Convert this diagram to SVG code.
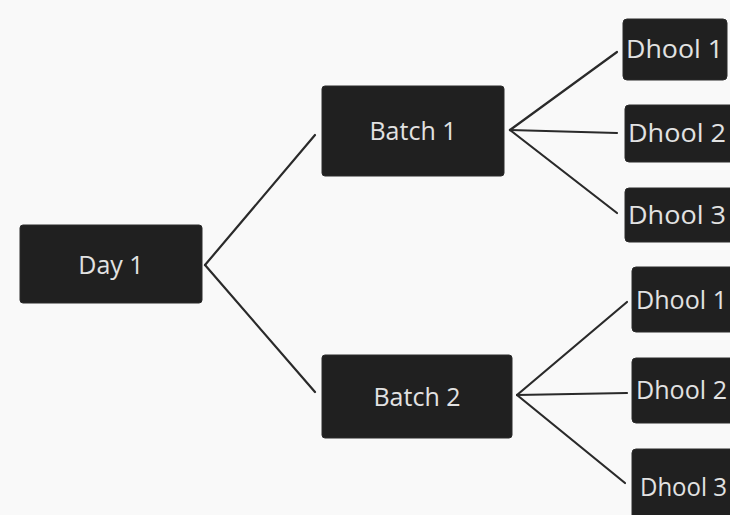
<svg xmlns="http://www.w3.org/2000/svg" width="730" height="515" viewBox="0 0 730 515">
<style>
.box{fill:#202020;stroke:#2a2a2a;stroke-width:1}
.t{fill:#e2e2e2;font-family:"Open Sans","Liberation Sans",sans-serif;font-size:25px;dominant-baseline:central}
.c{text-anchor:middle}
.ln{stroke:#2a2a2a;stroke-width:2.2;fill:none;stroke-linecap:round}
</style>
<rect width="730" height="515" fill="#f9f9f9"/>
<g id="connectors">
<line class="ln" x1="205" y1="265" x2="315" y2="135"/>
<line class="ln" x1="205" y1="265" x2="315" y2="392"/>
<line class="ln" x1="510" y1="130" x2="617" y2="52"/>
<line class="ln" x1="510" y1="130" x2="617" y2="133"/>
<line class="ln" x1="510" y1="130" x2="617" y2="213"/>
<line class="ln" x1="517" y1="395" x2="627" y2="302"/>
<line class="ln" x1="517" y1="395" x2="627" y2="393"/>
<line class="ln" x1="517" y1="395" x2="625" y2="483"/>
</g>
<g id="day1"><rect class="box" x="20" y="225" width="182" height="78" rx="3"/><text class="t c" x="111" y="264" font-size="28">Day 1</text></g>
<g id="batch1"><rect class="box" x="322" y="86" width="182" height="90" rx="3"/><text class="t c" x="413" y="130" font-size="24">Batch 1</text></g>
<g id="batch2"><rect class="box" x="322" y="355" width="190" height="83" rx="3"/><text class="t c" x="417" y="396" font-size="24">Batch 2</text></g>
<g id="b1d1"><rect class="box" x="623" y="19" width="104" height="61" rx="4"/><text class="t" x="626" y="48" textLength="97" lengthAdjust="spacingAndGlyphs">Dhool 1</text></g>
<g id="b1d2"><rect class="box" x="625" y="105" width="110" height="57" rx="4"/><text class="t" x="628" y="132" textLength="98" lengthAdjust="spacingAndGlyphs">Dhool 2</text></g>
<g id="b1d3"><rect class="box" x="625" y="188" width="110" height="54" rx="4"/><text class="t" x="628" y="214" textLength="98" lengthAdjust="spacingAndGlyphs">Dhool 3</text></g>
<g id="b2d1"><rect class="box" x="632" y="267" width="110" height="65" rx="4"/><text class="t" x="636" y="299" textLength="91" lengthAdjust="spacingAndGlyphs">Dhool 1</text></g>
<g id="b2d2"><rect class="box" x="632" y="358" width="110" height="65" rx="4"/><text class="t" x="636" y="389" textLength="91" lengthAdjust="spacingAndGlyphs">Dhool 2</text></g>
<g id="b2d3"><rect class="box" x="632" y="449" width="110" height="80" rx="4"/><text class="t" x="640" y="486" textLength="87" lengthAdjust="spacingAndGlyphs">Dhool 3</text></g>
</svg>
